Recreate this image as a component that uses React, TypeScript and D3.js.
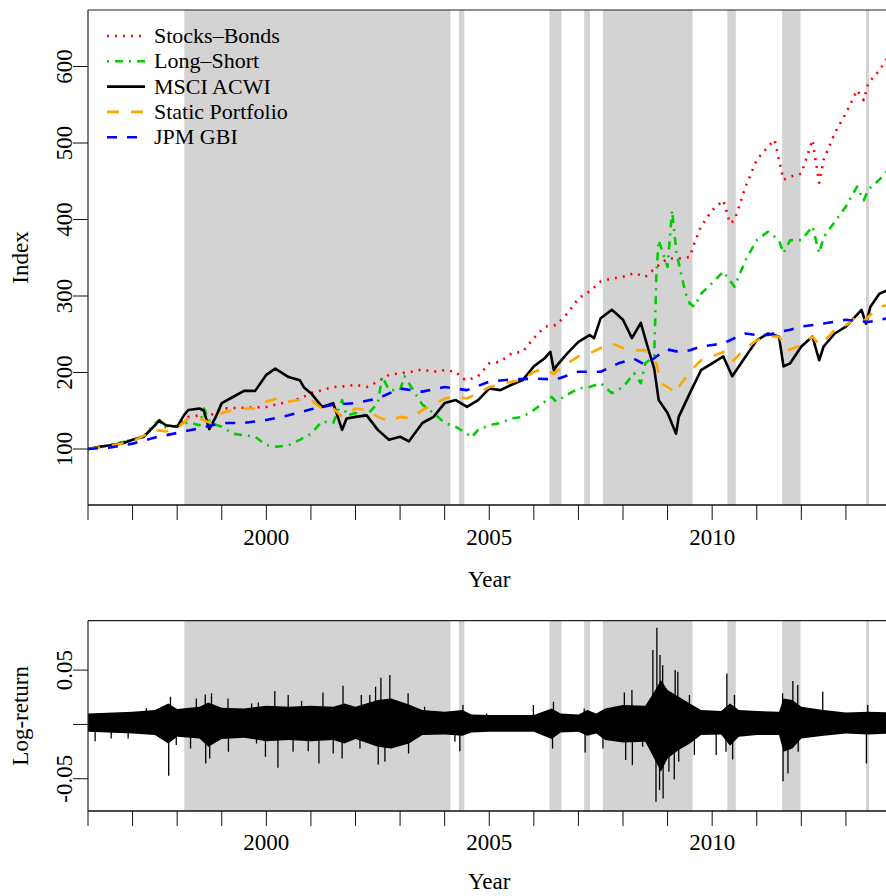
import React from 'react';
import * as d3 from 'd3';

// Index levels (year, value)
const stocksBonds: [number, number][] = [
  [1996, 100], [1996.5, 105], [1997, 112], [1997.25, 116], [1997.5, 131], [1997.6, 136], [1997.75, 130], [1998, 130],
  [1998.25, 142], [1998.5, 144], [1998.75, 144], [1999, 153], [1999.5, 154], [2000, 155], [2000.5, 162], [2000.75, 166],
  [2001, 173], [2001.5, 181], [2001.75, 182], [2002, 184], [2002.25, 181], [2002.5, 188], [2002.75, 197], [2003, 199],
  [2003.25, 201], [2003.5, 204], [2003.75, 201], [2004, 203], [2004.25, 201], [2004.4, 192], [2004.5, 190], [2004.75, 195],
  [2005, 212], [2005.25, 214], [2005.5, 225], [2005.75, 227], [2006, 245], [2006.25, 260], [2006.5, 262], [2006.75, 277],
  [2007, 297], [2007.25, 306], [2007.5, 319], [2007.75, 323], [2008, 325], [2008.25, 330], [2008.5, 325], [2008.75, 338],
  [2009, 349], [2009.25, 349], [2009.5, 351], [2009.6, 369], [2009.75, 391], [2010, 412], [2010.25, 425], [2010.4, 395],
  [2010.5, 399], [2010.75, 443], [2011, 478], [2011.25, 495], [2011.4, 504], [2011.5, 478], [2011.6, 452], [2011.75, 456],
  [2012, 460], [2012.25, 504], [2012.4, 448], [2012.5, 478], [2012.75, 513], [2013, 539], [2013.25, 569], [2013.4, 556],
  [2013.5, 578], [2013.75, 595], [2013.95, 613],
];

const longShort: [number, number][] = [
  [1996, 100], [1996.5, 105], [1997, 112], [1997.25, 117], [1997.5, 133], [1997.6, 138], [1997.75, 128], [1998, 130],
  [1998.25, 135], [1998.5, 131], [1998.6, 153], [1998.75, 134], [1999, 129], [1999.25, 120], [1999.5, 118], [1999.75, 116],
  [2000, 105], [2000.25, 103], [2000.5, 105], [2000.75, 112], [2001, 120], [2001.25, 136], [2001.5, 134], [2001.7, 164],
  [2001.8, 144], [2002, 147], [2002.25, 144], [2002.5, 160], [2002.6, 195], [2002.75, 177], [2003, 177], [2003.1, 195],
  [2003.25, 181], [2003.5, 158], [2003.75, 147], [2004, 134], [2004.25, 129], [2004.5, 120], [2004.6, 115], [2004.75, 125],
  [2005, 131], [2005.25, 134], [2005.5, 140], [2005.75, 142], [2006, 151], [2006.25, 162], [2006.4, 168], [2006.5, 162],
  [2006.75, 171], [2007, 179], [2007.25, 181], [2007.5, 186], [2007.75, 173], [2008, 181], [2008.25, 199], [2008.4, 186],
  [2008.5, 212], [2008.7, 221], [2008.75, 330], [2008.8, 373], [2009, 338], [2009.1, 412], [2009.2, 356], [2009.4, 304],
  [2009.5, 290], [2009.6, 286], [2009.75, 303], [2010, 317], [2010.25, 332], [2010.5, 312], [2010.75, 347], [2011, 373],
  [2011.25, 384], [2011.5, 373], [2011.6, 356], [2011.75, 373], [2012, 373], [2012.25, 391], [2012.4, 356], [2012.5, 377],
  [2012.75, 397], [2013, 417], [2013.25, 443], [2013.4, 425], [2013.5, 439], [2013.75, 452], [2013.95, 465],
];

const msciAcwi: [number, number][] = [
  [1996, 100], [1996.25, 103], [1996.5, 105], [1996.75, 107], [1997, 112], [1997.25, 116], [1997.5, 131], [1997.6, 137],
  [1997.75, 131], [1998, 129], [1998.15, 144], [1998.25, 151], [1998.5, 153], [1998.6, 150], [1998.72, 126], [1998.85, 140],
  [1999, 160], [1999.25, 168], [1999.5, 176], [1999.75, 176], [2000, 197], [2000.2, 205], [2000.5, 194], [2000.75, 190],
  [2000.85, 180], [2001, 173], [2001.25, 155], [2001.5, 160], [2001.7, 125], [2001.8, 140], [2002, 142], [2002.25, 144],
  [2002.5, 125], [2002.75, 112], [2003, 116], [2003.2, 110], [2003.5, 134], [2003.75, 142], [2004, 160], [2004.25, 164],
  [2004.5, 155], [2004.75, 164], [2005, 179], [2005.25, 177], [2005.5, 184], [2005.75, 190], [2006, 208], [2006.25, 219],
  [2006.37, 227], [2006.45, 203], [2006.5, 208], [2006.75, 225], [2007, 240], [2007.25, 249], [2007.35, 245], [2007.5, 271],
  [2007.75, 282], [2008, 269], [2008.2, 245], [2008.4, 265], [2008.55, 234], [2008.7, 205], [2008.8, 164], [2009, 147],
  [2009.19, 120], [2009.25, 142], [2009.5, 173], [2009.75, 203], [2010, 212], [2010.25, 221], [2010.45, 195], [2010.75, 221],
  [2011, 242], [2011.25, 251], [2011.5, 247], [2011.6, 208], [2011.75, 212], [2012, 234], [2012.25, 247], [2012.4, 216],
  [2012.5, 234], [2012.75, 251], [2013, 260], [2013.35, 282], [2013.45, 264], [2013.55, 286], [2013.75, 303], [2013.95, 308],
];

const staticPortfolio: [number, number][] = [
  [1996, 100], [1996.5, 104], [1997, 110], [1997.5, 125], [1997.75, 123], [1998, 127], [1998.25, 140], [1998.5, 140],
  [1998.75, 134], [1999, 147], [1999.25, 151], [1999.5, 153], [1999.75, 153], [2000, 162], [2000.25, 166], [2000.5, 162],
  [2000.75, 164], [2001, 164], [2001.25, 153], [2001.5, 153], [2001.7, 142], [2002, 153], [2002.25, 151], [2002.5, 142],
  [2002.75, 136], [2003, 142], [2003.25, 140], [2003.5, 151], [2003.75, 158], [2004, 166], [2004.25, 168], [2004.5, 166],
  [2004.75, 173], [2005, 181], [2005.25, 184], [2005.5, 188], [2005.75, 190], [2006, 201], [2006.25, 205], [2006.45, 198],
  [2006.5, 201], [2006.75, 212], [2007, 221], [2007.25, 225], [2007.5, 232], [2007.75, 238], [2008, 232], [2008.25, 229],
  [2008.5, 229], [2008.75, 212], [2008.85, 186], [2009, 181], [2009.2, 173], [2009.25, 181], [2009.5, 201], [2009.75, 216],
  [2010, 221], [2010.25, 227], [2010.45, 214], [2010.75, 232], [2011, 242], [2011.25, 247], [2011.5, 247], [2011.7, 229],
  [2012, 236], [2012.25, 247], [2012.4, 236], [2012.5, 240], [2012.75, 256], [2013, 262], [2013.3, 275], [2013.45, 268],
  [2013.5, 273], [2013.75, 286], [2013.95, 288],
];

const jpmGbi: [number, number][] = [
  [1996, 100], [1996.5, 102], [1997, 107], [1997.5, 115], [1998, 121], [1998.5, 127], [1999, 134], [1999.5, 134],
  [2000, 138], [2000.5, 144], [2001, 152], [2001.5, 158], [2002, 160], [2002.5, 166], [2003, 179], [2003.5, 175],
  [2004, 181], [2004.5, 177], [2005, 188], [2005.5, 191], [2006, 192], [2006.5, 191], [2007, 201], [2007.5, 201],
  [2007.9, 212], [2008.25, 218], [2008.5, 210], [2008.75, 221], [2009, 230], [2009.25, 227], [2009.5, 229], [2009.75, 234],
  [2010, 236], [2010.25, 238], [2010.5, 245], [2010.75, 251], [2011, 249], [2011.25, 249], [2011.5, 253], [2011.75, 256],
  [2012, 260], [2012.5, 264], [2013, 269], [2013.5, 266], [2013.95, 271],
];

// Log-return: typical daily range (year, high, low) and the larger single-day moves
const returnBand: [number, number, number][] = [
  [1996, 0.0101, -0.0068], [1997, 0.0117, -0.0083], [1997.5, 0.0132, -0.0098], [1997.8, 0.0193, -0.0175],
  [1998, 0.0141, -0.0114], [1998.5, 0.0163, -0.0129], [1998.7, 0.0203, -0.0206], [1999, 0.0154, -0.0135],
  [1999.5, 0.0147, -0.0123], [2000, 0.0172, -0.0154], [2000.5, 0.0163, -0.0144], [2001, 0.0172, -0.0154],
  [2001.5, 0.0163, -0.0144], [2001.75, 0.0193, -0.0175], [2002, 0.0163, -0.0135], [2002.5, 0.0224, -0.0206],
  [2002.8, 0.0239, -0.0221], [2003.2, 0.0184, -0.0175], [2003.5, 0.0132, -0.0098], [2004, 0.0117, -0.0092],
  [2004.4, 0.0132, -0.0104], [2004.6, 0.0092, -0.0074], [2005, 0.0086, -0.0068], [2006, 0.0086, -0.0068],
  [2006.4, 0.0147, -0.0135], [2006.6, 0.0101, -0.0074], [2007, 0.0092, -0.0068], [2007.2, 0.0132, -0.0104],
  [2007.4, 0.0101, -0.0083], [2007.6, 0.0147, -0.0144], [2008, 0.0178, -0.0166], [2008.5, 0.0172, -0.016],
  [2008.7, 0.03, -0.0313], [2008.85, 0.0408, -0.0436], [2009, 0.0316, -0.0313], [2009.25, 0.0255, -0.0236],
  [2009.5, 0.0193, -0.0175], [2009.75, 0.0132, -0.0098], [2010.2, 0.0123, -0.0092], [2010.4, 0.0193, -0.0196],
  [2010.6, 0.0132, -0.0114], [2011, 0.0123, -0.0098], [2011.5, 0.0117, -0.0098], [2011.6, 0.0239, -0.0252],
  [2011.8, 0.0224, -0.0221], [2012, 0.0163, -0.0129], [2012.5, 0.0132, -0.0104], [2013, 0.011, -0.0083],
  [2013.5, 0.0117, -0.0092], [2014, 0.011, -0.0083],
];

const returnSpikes: [number, number][] = [
  [1996.16, -0.0154], [1996.52, -0.013], [1996.9, -0.013], [1997.31, 0.015],
  [1997.81, -0.0473], [1997.85, 0.0255], [1997.98, -0.019], [1998.3, -0.0221], [1998.43, 0.0239],
  [1998.63, 0.0276], [1998.64, -0.0359], [1998.73, -0.0313], [1998.77, 0.0286], [1999.14, 0.0239],
  [1999.15, -0.0252], [1999.67, 0.0193], [1999.78, -0.0175], [1999.82, 0.0203], [1999.98, -0.0298],
  [2000.19, 0.0307], [2000.26, -0.0399], [2000.49, 0.027], [2000.6, -0.0252], [2000.79, 0.0215],
  [2000.94, -0.0246], [2001.18, -0.0359], [2001.27, 0.0295], [2001.5, -0.0267], [2001.7, -0.0313],
  [2001.72, 0.0356], [2002.1, -0.0221], [2002.13, 0.027], [2002.32, 0.027], [2002.45, 0.0347],
  [2002.51, -0.0368], [2002.57, 0.043], [2002.66, -0.0344], [2002.77, 0.0454], [2003.18, 0.0286],
  [2003.19, -0.0267], [2003.55, 0.0163], [2004.23, -0.016], [2004.34, -0.0246], [2004.41, 0.0178],
  [2004.94, 0.0101], [2005.99, 0.0178], [2006.42, -0.0221], [2006.44, 0.0209], [2007.13, 0.0147],
  [2007.15, -0.0258], [2007.55, -0.0221], [2008.03, 0.0295], [2008.06, -0.0328], [2008.2, 0.0316],
  [2008.21, -0.0375], [2008.44, -0.0206], [2008.67, 0.0685], [2008.74, -0.0712], [2008.76, 0.089],
  [2008.82, -0.0605], [2008.83, 0.0639], [2008.89, 0.0546], [2008.9, -0.0682], [2009.03, -0.0436],
  [2009.15, -0.0507], [2009.17, 0.05], [2009.23, 0.0485], [2009.25, -0.0344], [2009.49, 0.027],
  [2009.6, -0.0282], [2010.09, -0.0282], [2010.31, -0.0252], [2010.33, 0.047], [2010.46, -0.0322],
  [2010.5, 0.027], [2011.58, 0.0286], [2011.59, -0.0522], [2011.7, -0.0451], [2011.81, 0.0399],
  [2011.92, 0.0362], [2011.93, -0.0252], [2012.48, 0.0301], [2013.46, -0.0359], [2013.49, 0.0178],
];

// Shaded periods (start, end)
const shadedPeriods: [number, number][] = [
  [1998.16, 2004.13], [2004.32, 2004.44], [2006.35, 2006.62], [2007.13, 2007.26],
  [2007.55, 2009.56], [2010.34, 2010.53], [2011.57, 2011.98], [2013.45, 2013.52],
];

const yearTicks = d3.range(1996, 2014);
const yearLabels = [2000, 2005, 2010];
const indexTicks = [100, 200, 300, 400, 500, 600];
const returnTicks = [-0.05, 0, 0.05];
const returnLabels = [-0.05, 0.05];

const series = [
  { name: 'Stocks\u2013Bonds', data: stocksBonds, color: '#ff0000', dash: '2,6' },
  { name: 'Long\u2013Short', data: longShort, color: '#00cd00', dash: '2,6,8,6' },
  { name: 'MSCI ACWI', data: msciAcwi, color: '#000000', dash: '' },
  { name: 'Static Portfolio', data: staticPortfolio, color: '#ffa500', dash: '12,12' },
  { name: 'JPM GBI', data: jpmGbi, color: '#0000ff', dash: '10,10' },
];

const W = 886;
const H = 896;
const FONT = '"Liberation Serif", "DejaVu Serif", serif';
const left = 88;
const right = 890.5;
const top1 = 10, bottom1 = 505;
const top2 = 620.7, bottom2 = 811;

const App = () => {
  const x = d3.scaleLinear().domain([1996, 2014]).range([left, right]);
  const y1 = d3.scaleLinear().domain([26.8, 673.9]).range([bottom1, top1]);
  const y2 = d3.scaleLinear().domain([-0.0797, 0.0955]).range([bottom2, top2]);

  const line = d3.line<[number, number]>().x(d => x(d[0])).y(d => y1(d[1]));
  const band = d3.area<[number, number, number]>()
    .x(d => x(d[0])).y0(d => y2(d[2])).y1(d => y2(d[1]));

  const shade = (yt: number, yb: number) =>
    shadedPeriods.map(([s, e], i) => (
      <rect key={i} x={x(s)} y={yt} width={x(e) - x(s)} height={yb - yt} fill="#d3d3d3" />
    ));

  const xAxis = (yb: number, labelY: number, titleY: number) => (
    <g>
      <line x1={left} x2={W} y1={yb} y2={yb} stroke="#111" strokeWidth={1.5} />
      {yearTicks.map(t => (
        <line key={t} x1={x(t)} x2={x(t)} y1={yb} y2={yb + 15} stroke="#111" strokeWidth={1} />
      ))}
      {yearLabels.map(t => (
        <text key={t} x={x(t)} y={labelY} textAnchor="middle" fontSize={23}>{t}</text>
      ))}
      <text x={x(2005)} y={titleY} textAnchor="middle" fontSize={23}>Year</text>
    </g>
  );

  return (
    <div style={{ position: 'absolute', left: 0, top: 0 }}>
      <svg width={W} height={H} style={{ display: 'block', fontFamily: FONT }}>
        <defs>
          <clipPath id="clip1"><rect x={left} y={top1} width={right - left} height={bottom1 - top1} /></clipPath>
          <clipPath id="clip2"><rect x={left} y={top2} width={right - left} height={bottom2 - top2} /></clipPath>
        </defs>
        <rect width={W} height={H} fill="#fff" />

        {/* top panel */}
        {shade(top1, bottom1)}
        <g clipPath="url(#clip1)">
          {series.map(s => (
            <path key={s.name} d={line(s.data) || ''} fill="none" stroke={s.color} strokeWidth={2.6}
              strokeDasharray={s.dash || undefined} strokeLinejoin="round" />
          ))}
        </g>
        <line x1={left} x2={W} y1={top1} y2={top1} stroke="#222" strokeWidth={1.2} />
        <line x1={left} x2={left} y1={top1} y2={bottom1} stroke="#222" strokeWidth={1.2} />
        {indexTicks.map(v => (
          <g key={v}>
            <line x1={left - 15} x2={left} y1={y1(v)} y2={y1(v)} stroke="#111" />
            <text transform={`translate(72,${y1(v)}) rotate(-90)`} textAnchor="middle" fontSize={23}>{v}</text>
          </g>
        ))}
        <text transform={`translate(28,${(top1 + bottom1) / 2}) rotate(-90)`} textAnchor="middle" fontSize={23}>Index</text>
        {xAxis(bottom1, 545, 587)}

        {/* legend */}
        {series.map((s, i) => {
          const ly = 36 + i * 25.3;
          return (
            <g key={s.name}>
              <line x1={107} x2={145} y1={ly} y2={ly} stroke={s.color} strokeWidth={2.6}
                strokeDasharray={s.dash || undefined} />
              <text x={154} y={ly + 7} fontSize={22}>{s.name}</text>
            </g>
          );
        })}

        {/* bottom panel */}
        {shade(top2, bottom2)}
        <g clipPath="url(#clip2)">
          <path d={band(returnBand) || ''} fill="#000" />
          {returnSpikes.map(([t, v], i) => (
            <line key={i} x1={x(t)} x2={x(t)} y1={y2(0)} y2={y2(v)} stroke="#000" strokeWidth={1.3} />
          ))}
        </g>
        <line x1={left} x2={W} y1={top2} y2={top2} stroke="#222" strokeWidth={1.2} />
        <line x1={left} x2={left} y1={top2} y2={bottom2} stroke="#222" strokeWidth={1.2} />
        {returnTicks.map(v => (
          <line key={v} x1={left - 15} x2={left} y1={y2(v)} y2={y2(v)} stroke="#111" />
        ))}
        {returnLabels.map(v => (
          <text key={v} transform={`translate(72,${y2(v)}) rotate(-90)`} textAnchor="middle" fontSize={23}>{v.toFixed(2)}</text>
        ))}
        <text transform={`translate(28,${(top2 + bottom2) / 2}) rotate(-90)`} textAnchor="middle" fontSize={23}>Log-return</text>
        {xAxis(bottom2, 850, 889)}
      </svg>
    </div>
  );
};

export default App;
